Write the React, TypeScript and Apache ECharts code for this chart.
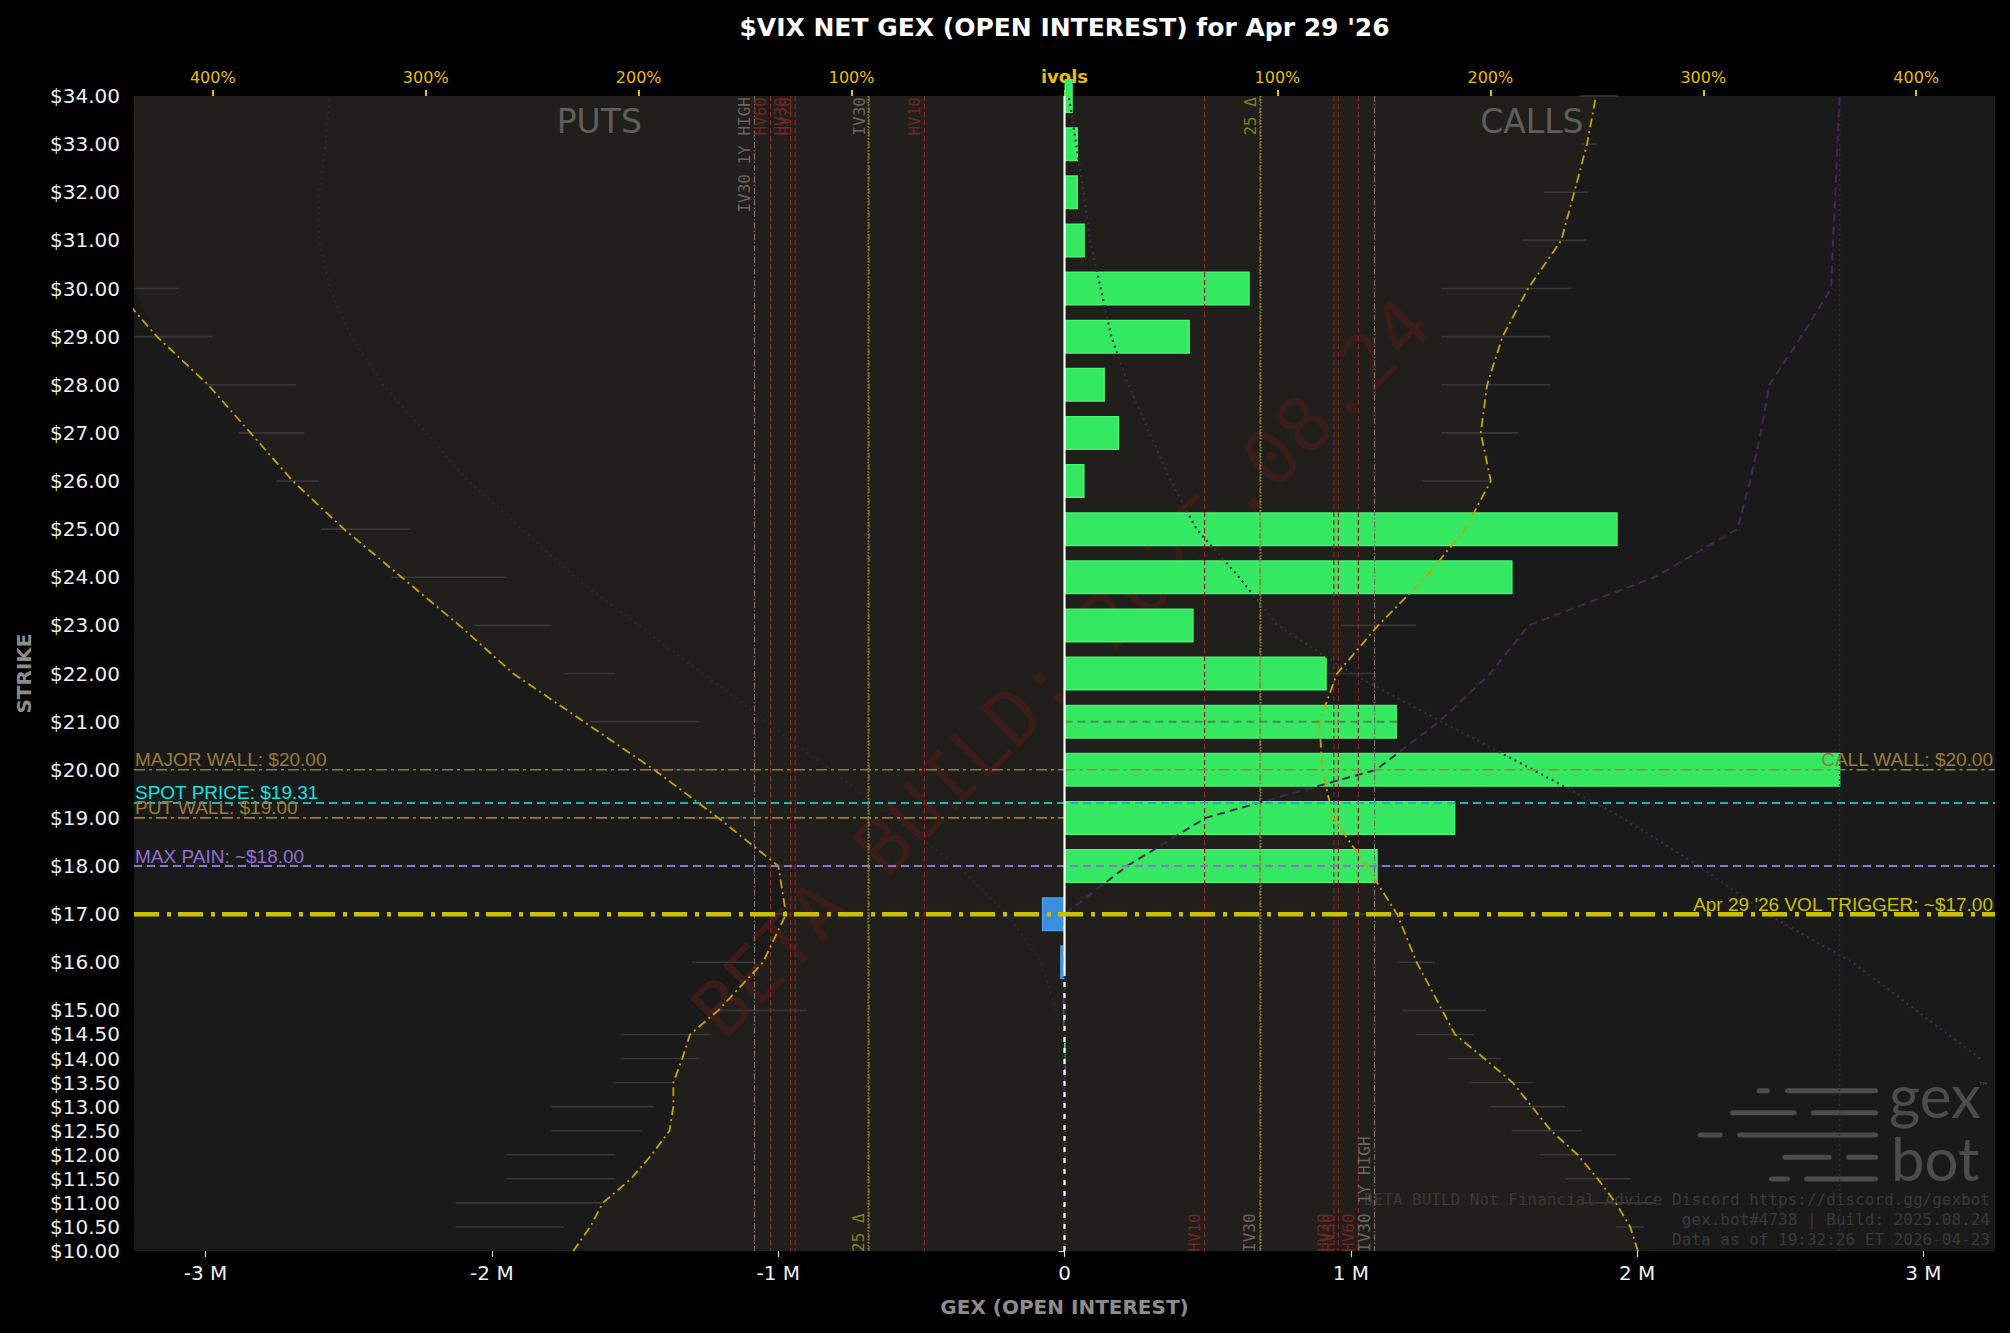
import React, { useEffect, useRef } from "react";
import * as echarts from "echarts";

const TITLE = "$VIX NET GEX (OPEN INTEREST) for Apr 29 '26";

// y-axis strike categories (half steps so that the low strikes get their own ticks)
const STRIKE_AXIS = [10, 10.5, 11, 11.5, 12, 12.5, 13, 13.5, 14, 14.5, 15, 15.5, 16, 16.5, 17, 17.5, 18, 18.5, 19, 19.5, 20, 20.5, 21, 21.5, 22, 22.5, 23, 23.5, 24, 24.5, 25, 25.5, 26, 26.5, 27, 27.5, 28, 28.5, 29, 29.5, 30, 30.5, 31, 31.5, 32, 32.5, 33, 33.5, 34];

// net GEX bars (millions)
const BAR_STRIKES = [14, 15, 16, 17, 18, 19, 20, 21, 22, 23, 24, 25, 26, 27, 28, 29, 30, 31, 32, 33, 34];
const NET_GEX_M = [0.002, -0.004, -0.015, -0.079, 1.094, 1.365, 2.71, 1.161, 0.916, 0.451, 1.565, 1.932, 0.07, 0.191, 0.141, 0.438, 0.647, 0.071, 0.047, 0.047, 0.029];

const BOTTOM_TICKS = [-3e6, -2e6, -1e6, 0, 1e6, 2e6, 3e6];
const TOP_TICKS = [-400, -300, -200, -100, 0, 100, 200, 300, 400];

// implied vol curves (percent) — puts drawn mirrored on the left
const IV_STRIKES = [10, 10.5, 11, 11.5, 12, 12.5, 13, 13.5, 14, 14.5, 15, 16, 17, 18, 19, 20, 21, 22, 23, 24, 25, 26, 27, 28, 29, 30, 31, 32, 33, 34];
const PUT_IV = [230.7, 222.8, 216.8, 203.6, 193.9, 185.5, 183.7, 183.7, 179.5, 175.9, 162.6, 141.6, 130.8, 134.4, 162.6, 192.7, 225.8, 258.9, 284.2, 311.3, 338.4, 362.4, 382.3, 402.2, 426.2, 446, 470, 495, 520, 545];
const CALL_IV = [269.3, 265.7, 258.9, 250.4, 241, 228.5, 219.5, 210.5, 197.2, 183.4, 177.4, 165.4, 156.2, 141.8, 126.2, 121.1, 119.7, 128, 147.3, 169.6, 188.2, 200.2, 195.5, 198.5, 205.7, 217.7, 233.3, 239.4, 245.4, 249.6];
const CALL_IV_ALT = [0, 0, 0, 0, 0, 0, 0, 0, 0, 0, 0, 0, 0, 29.4, 66.3, 146.3, 176, 200, 218, 277, 316, 322, 327, 331, 346, 360, 361, 362, 363, 364];

// dotted skew curves
const SKEW_STRIKES = [14, 15, 16, 17, 18, 19, 20, 21, 22, 23, 24, 25, 26, 27, 28, 29, 30, 31, 32, 33, 34];
const CALL_SKEW = [430, 400, 370, 330, 298, 262, 220, 177, 135, 100, 82, 62, 50, 40, 30, 22, 17, 12, 9, 5.5, 2];
const PUT_SKEW = [0, 4, 11, 27, 50, 80, 110, 140, 170, 200, 230, 255, 280, 300, 320, 335, 345, 350, 350, 347, 345];
const ALT_VLINE = [364];

// bid/ask IV segments
const SEG_STRIKES = [10.5, 11, 11.5, 12, 12.5, 13, 13.5, 14, 14.5, 15, 16, 17, 18, 19, 20, 21, 22, 23, 24, 25, 26, 27, 28, 29, 30, 31, 32, 33, 34];
const CALL_SEG_LO = [259, 243, 235, 223, 210, 200, 190, 180, 165, 159, 156, 128, 120, 110, 110, 108, 111, 130, 150, 165, 168, 177, 177, 177, 177, 215, 225, 243, 242];
const CALL_SEG_HI = [272, 277, 266, 259, 243, 235, 220, 205, 192, 198, 174, 174, 160, 157, 135, 140, 146, 165, 185, 200, 199, 213, 228, 228, 238, 245, 246, 250, 260];
const PUT_SEG_LO = [235, 217, 211, 211, 199, 193, 184, 172, 166, 121, 145, 120, 125, 150, 163, 172, 211, 241, 262, 307, 350, 357, 361, 400, 416, 450, 450, 450, 450];
const PUT_SEG_HI = [286, 286, 262, 262, 241, 241, 212, 208, 208, 163, 175, 140, 145, 175, 199, 223, 235, 277, 316, 349, 370, 388, 403, 440, 440, 470, 470, 470, 470];

// vol reference lines (percent)
const VLINE_NAMES = ["HV10", "IV30", "25 Δ", "HV20", "HV30", "HV60", "IV30 1Y HIGH"];
const VLINE_VALUES = [65.8, 91.8, 92.2, 126.5, 128.6, 138, 145.6];
const VLINE_KIND = ["hv", "iv", "delta", "hv", "hv", "hv", "iv"];

// price levels
const SPOT = 19.31;
const MAJOR_WALL = 20;
const CALL_WALL = 20;
const PUT_WALL = 19;
const MAX_PAIN = 18;
const VOL_TRIGGER = 17;
const MARKER_STRIKE = 21;
const MARKER_GEX_M = 1.161;

const FOOTER = [
  "BETA BUILD Not Financial Advice Discord https://discord.gg/gexbot",
  "gex.bot#4738 | Build: 2025.08.24",
  "Data as of 19:32:26 ET 2026-04-23",
];

const X_MIN = -3.25e6;
const X_MAX = 3.25e6;
const IV_LIM = 437;

const VSTYLE: any = {
  hv: { stroke: "#8a2424", lineDash: [5, 3], text: "#6e2626" },
  iv: { stroke: "#7a6e6a", lineDash: [6, 2, 1.5, 2], text: "#6a6462" },
  delta: { stroke: "#9a9420", lineDash: [1.5, 1.5], text: "#84801a" },
};

export default function App() {
  const ref = useRef<HTMLDivElement>(null);

  useEffect(() => {
    document.body.style.margin = "0";
    document.body.style.background = "#000";
    const chart = echarts.init(ref.current!, null, { renderer: "svg" });

    const showStrike = (_i: number, v: any) => {
      const s = Number(v);
      return s <= 15 || Number.isInteger(s);
    };

    const barData = STRIKE_AXIS.map((s) => {
      const i = BAR_STRIKES.indexOf(s);
      if (i < 0) return "-";
      const v = NET_GEX_M[i] * 1e6;
      return {
        value: v,
        itemStyle: v >= 0
          ? { color: "#35e862", borderColor: "#45f475", borderWidth: 1.5 }
          : { color: "#3a8ee0", borderColor: "#4a9cf0", borderWidth: 1.5 },
      };
    });

    const clampFn = (cs: any) => (x: number) => Math.max(cs.x, Math.min(cs.x + cs.width, x));

    const segData: number[][] = [];
    SEG_STRIKES.forEach((s, i) => {
      segData.push([CALL_SEG_LO[i], CALL_SEG_HI[i], s]);
      segData.push([-PUT_SEG_HI[i], -PUT_SEG_LO[i], s]);
    });

    const vlineData: number[][] = [];
    VLINE_VALUES.forEach((v, i) => {
      vlineData.push([-v, i]);
      vlineData.push([v, i]);
    });

    const hLine = (name: string, pts: number[][], color: string, width: number, type: any, z = 5) => ({
      type: "line",
      name,
      xAxisIndex: 0,
      yAxisIndex: 1,
      data: pts,
      symbol: "none",
      silent: true,
      z,
      lineStyle: { color, width, type },
    });

    const ivLine = (name: string, pts: number[][], color: string, width: number, type: any, z = 4) => ({
      type: "line",
      name,
      xAxisIndex: 1,
      yAxisIndex: 1,
      data: pts,
      symbol: "none",
      silent: true,
      z,
      lineStyle: { color, width, type },
    });

    const option: any = {
      animation: false,
      backgroundColor: "#000000",
      grid: { left: 134, right: 15, top: 96, bottom: 82, show: true, backgroundColor: "#1a1a1a", borderWidth: 0 },
      xAxis: [
        {
          type: "value",
          position: "bottom",
          min: X_MIN,
          max: X_MAX,
          minInterval: 1e6,
          maxInterval: 1e6,
          axisLine: { show: false },
          splitLine: { show: false },
          axisTick: { show: true, length: 6, lineStyle: { color: "#e0e0e0", width: 1.2 }, customValues: BOTTOM_TICKS },
          axisLabel: {
            customValues: BOTTOM_TICKS,
            color: "#eeeeee",
            fontSize: 20,
            fontFamily: "DejaVu Sans",
            margin: 12,
            formatter: (v: number) => (v === 0 ? "0" : Math.abs(v % 1e6) > 1 ? "" : v / 1e6 + " M"),
          },
          name: "GEX (OPEN INTEREST)",
          nameLocation: "middle",
          nameGap: 46,
          nameTextStyle: { color: "#8c8c8c", fontSize: 20, fontWeight: "bold", fontFamily: "DejaVu Sans" },
        },
        {
          type: "value",
          position: "top",
          min: -IV_LIM,
          max: IV_LIM,
          minInterval: 100,
          maxInterval: 100,
          axisLine: { show: false },
          splitLine: { show: false },
          axisTick: { show: true, length: 6, lineStyle: { color: "#e6be00", width: 2 }, customValues: TOP_TICKS },
          axisLabel: {
            customValues: TOP_TICKS,
            color: "#e6be00",
            fontSize: 16,
            fontFamily: "DejaVu Sans",
            margin: 11,
            formatter: (v: number) => (v === 0 ? "{b|ivols}" : Math.abs(v % 100) > 0.01 ? "" : Math.abs(v) + "%"),
            rich: { b: { color: "#e6be00", fontSize: 18, fontWeight: "bold", fontFamily: "DejaVu Sans" } },
          },
        },
      ],
      yAxis: [
        {
          type: "category",
          data: STRIKE_AXIS.map(String),
          boundaryGap: false,
          axisLine: { show: false },
          splitLine: { show: false },
          axisTick: { show: true, length: 6, interval: showStrike, lineStyle: { color: "#e0e0e0", width: 1.2 } },
          axisLabel: {
            interval: showStrike,
            color: "#eeeeee",
            fontSize: 20,
            fontFamily: "DejaVu Sans",
            margin: 14,
            formatter: (v: any) => "$" + Number(v).toFixed(2),
          },
          name: "STRIKE",
          nameLocation: "middle",
          nameGap: 100,
          nameTextStyle: { color: "#8c8c8c", fontSize: 20, fontWeight: "bold", fontFamily: "DejaVu Sans" },
        },
        { type: "value", min: 10, max: 34, show: false },
      ],
      series: [
        {
          type: "custom",
          name: "ivfill",
          xAxisIndex: 1,
          yAxisIndex: 1,
          z: 1,
          silent: true,
          data: [[0, 22]],
          renderItem: (params: any, api: any) => {
            const cs = params.coordSys;
            const cl = clampFn(cs);
            const pts: number[][] = [];
            IV_STRIKES.forEach((s, i) => {
              const p = api.coord([CALL_IV[i], s]);
              pts.push([cl(p[0]), p[1]]);
            });
            for (let i = IV_STRIKES.length - 1; i >= 0; i--) {
              const p = api.coord([-PUT_IV[i], IV_STRIKES[i]]);
              pts.push([cl(p[0]), p[1]]);
            }
            return { type: "polygon", shape: { points: pts }, style: { fill: "#211f1b" } };
          },
        },
        {
          type: "bar",
          name: "gex",
          xAxisIndex: 0,
          yAxisIndex: 0,
          data: barData,
          barWidth: 34,
          z: 2,
          silent: true,
        },
        {
          type: "custom",
          name: "segments",
          xAxisIndex: 1,
          yAxisIndex: 1,
          z: 1.7,
          silent: true,
          data: segData,
          renderItem: (params: any, api: any) => {
            const cl = clampFn(params.coordSys);
            const a = api.coord([api.value(0), api.value(2)]);
            const b = api.coord([api.value(1), api.value(2)]);
            const x1 = cl(a[0]);
            const x2 = cl(b[0]);
            if (x2 - x1 < 0.5) return { type: "group", children: [] };
            return { type: "line", shape: { x1, y1: a[1], x2, y2: a[1] }, style: { stroke: "#383838", lineWidth: 1.6 } };
          },
        },
        {
          type: "custom",
          name: "vlines",
          xAxisIndex: 1,
          yAxisIndex: 1,
          z: 3,
          silent: true,
          data: vlineData,
          renderItem: (params: any, api: any) => {
            const cs = params.coordSys;
            const x = api.coord([api.value(0), 22])[0];
            const st = VSTYLE[VLINE_KIND[api.value(1)]];
            return {
              type: "line",
              shape: { x1: x, y1: cs.y, x2: x, y2: cs.y + cs.height },
              style: { stroke: st.stroke, lineWidth: 1.2, lineDash: st.lineDash },
            };
          },
        },
        ivLine("altVline", [[ALT_VLINE[0], 10], [ALT_VLINE[0], 34]], "#3a2447", 1.5, [2, 3], 3),
        ivLine("callSkew", SKEW_STRIKES.map((s, i) => [CALL_SKEW[i], s]), "#3b3042", 2.2, [2, 4]),
        ivLine("putSkew", SKEW_STRIKES.map((s, i) => [-PUT_SKEW[i], s]), "#2c2630", 2, [2, 4]),
        ivLine("callIvAlt", IV_STRIKES.map((s, i) => [CALL_IV_ALT[i], s]), "#3e2c4c", 2, [8, 5]),
        ivLine("putIv", IV_STRIKES.map((s, i) => [-PUT_IV[i], s]), "#c8a200", 1.8, [9, 4, 2, 4]),
        ivLine("callIv", IV_STRIKES.map((s, i) => [CALL_IV[i], s]), "#c8a200", 1.8, [9, 4, 2, 4]),
        hLine("marker21", [[0, MARKER_STRIKE], [MARKER_GEX_M * 1e6, MARKER_STRIKE]], "#4a8f58", 2, [8, 5]),
        hLine("zeroSolid", [[0, 15.75], [0, 34]], "#ffffff", 2.2, "solid", 6),
        hLine("zeroDash", [[0, 10], [0, 15.75]], "#ffffff", 2.2, [5, 6], 6),
        hLine("majorWall", [[X_MIN, MAJOR_WALL], [0, MAJOR_WALL]], "#9c7a36", 1.6, [11, 4, 3, 4]),
        hLine("callWall", [[0, CALL_WALL], [X_MAX, CALL_WALL]], "#a68038", 1.6, [11, 4, 3, 4]),
        hLine("putWall", [[X_MIN, PUT_WALL], [0, PUT_WALL]], "#9c7a36", 1.6, [11, 4, 3, 4]),
        hLine("spot", [[X_MIN, SPOT], [X_MAX, SPOT]], "#12b8b8", 2, [8, 5]),
        hLine("maxPain", [[X_MIN, MAX_PAIN], [X_MAX, MAX_PAIN]], "#9070d0", 2, [8, 5]),
        hLine("volTrigger", [[X_MIN, VOL_TRIGGER], [X_MAX, VOL_TRIGGER]], "#c8c000", 4.5, [25, 8, 4, 7], 7),
      ],
    };

    chart.setOption(option);

    const X0 = (v: number) => chart.convertToPixel({ xAxisIndex: 0 } as any, v) as unknown as number;
    const X1 = (v: number) => chart.convertToPixel({ xAxisIndex: 1 } as any, v) as unknown as number;
    const Y = (v: number) => chart.convertToPixel({ yAxisIndex: 1 } as any, v) as unknown as number;
    const L = X0(X_MIN);
    const R = X0(X_MAX);
    const T = Y(34);
    const B = Y(10);

    const txt = (text: string, x: number, y: number, font: string, fill: string, align: string, va: string, rotation = 0, z = 10) => ({
      type: "text",
      x,
      y,
      rotation,
      z,
      silent: true,
      style: { text, font, fill, align, verticalAlign: va, textAlign: align, textVerticalAlign: va },
    });

    const els: any[] = [];
    els.push(txt(TITLE, (L + R) / 2, 27, 'bold 25px "DejaVu Sans"', "#ffffff", "center", "middle"));
    els.push(txt("PUTS", X1(-218.5), Y(33.47), '33px "DejaVu Sans"', "#5e5e5e", "center", "middle", 0, 1.6));
    els.push(txt("CALLS", X1(219.5), Y(33.47), '33px "DejaVu Sans"', "#5e5e5e", "center", "middle", 0, 1.6));

    // watermark
    els.push(txt("BETA BUILD: 2025.08.24", (L + R) / 2 - 3, (T + B) / 2 - 6, '76px "DejaVu Sans Mono"', "#3a1c18", "center", "middle", Math.PI / 4, 1.5));

    // vol line labels
    const vfont = '16px "DejaVu Sans Mono"';
    VLINE_VALUES.forEach((v, i) => {
      const st = VSTYLE[VLINE_KIND[i]];
      const name = VLINE_NAMES[i];
      const xl = X1(-v) - 10;
      const xr = X1(v) - 10;
      if (VLINE_KIND[i] === "delta") {
        els.push(txt(name, xl, B + 1, vfont, st.text, "left", "middle", Math.PI / 2));
        els.push(txt(name, xr, T + 1, vfont, st.text, "right", "middle", Math.PI / 2));
      } else {
        els.push(txt(name, xl, T + 1, vfont, st.text, "right", "middle", Math.PI / 2));
        els.push(txt(name, xr, B + 1, vfont, st.text, "left", "middle", Math.PI / 2));
      }
    });

    // level labels
    const lfont = '19px "Liberation Sans"';
    els.push(txt("MAJOR WALL: $20.00", L + 1, Y(MAJOR_WALL) - 10, lfont, "#9c7a36", "left", "middle"));
    els.push(txt("SPOT PRICE: $19.31", L + 1, Y(SPOT) - 10, lfont, "#16e0e0", "left", "middle"));
    els.push(txt("PUT WALL: $19.00", L + 1, Y(PUT_WALL) - 10, lfont, "#9c7a36", "left", "middle"));
    els.push(txt("MAX PAIN: ~$18.00", L + 1, Y(MAX_PAIN) - 10, lfont, "#9070d0", "left", "middle"));
    els.push(txt("CALL WALL: $20.00", R - 2, Y(CALL_WALL) - 10, lfont, "#9c7a36", "right", "middle"));
    els.push(txt("Apr 29 '26 VOL TRIGGER: ~$17.00", R - 2, Y(VOL_TRIGGER) - 10, lfont, "#c8c000", "right", "middle", 0, 11));

    // logo
    const dashRows = [
      [160.3, 238.3, 225, 210, 117],
      [138.3, 265, 198.3, 184.3, 117],
      [116, 297.3, 272.3, 257.7, 117],
      [93.7, 212.7, 163.3, 149, 117],
      [72, 226, 205, 191, 117],
    ];
    dashRows.forEach((r) => {
      const y = B - r[0] - 2.5;
      els.push({ type: "rect", z: 1.5, silent: true, shape: { x: R - r[1], y, width: r[1] - r[2], height: 5, r: 2.5 }, style: { fill: "#4c4c4c" } });
      els.push({ type: "rect", z: 1.5, silent: true, shape: { x: R - r[3], y, width: r[3] - r[4], height: 5, r: 2.5 }, style: { fill: "#4c4c4c" } });
    });
    els.push(txt("gex", R - 106, B - 156, '60px "Lato"', "#4c4c4c", "left", "middle", 0, 1.5));
    els.push(txt("bot", R - 104, B - 93, '60px "Lato"', "#4c4c4c", "left", "middle", 0, 1.5));
    els.push(txt("™", R - 17, B - 165, '11px "DejaVu Sans"', "#4c4c4c", "left", "middle", 0, 1.5));

    // footer
    const ffont = '16px "DejaVu Sans Mono"';
    els.push(txt(FOOTER[0], R - 5, B - 52, ffont, "#3a3a3a", "right", "middle", 0, 1.6));
    els.push(txt(FOOTER[1], R - 5, B - 32, ffont, "#3a3a3a", "right", "middle", 0, 1.6));
    els.push(txt(FOOTER[2], R - 5, B - 12, ffont, "#3a3a3a", "right", "middle", 0, 1.6));

    chart.setOption({ graphic: { elements: els } });

    return () => {
      chart.dispose();
    };
  }, []);

  return <div ref={ref} style={{ width: 2010, height: 1333 }} />;
}
